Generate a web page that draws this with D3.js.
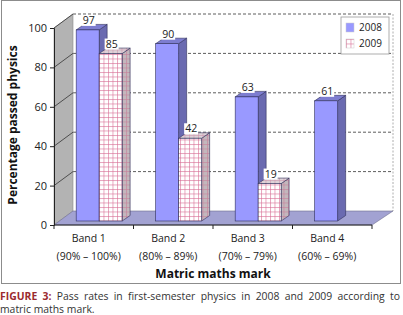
<!DOCTYPE html>
<html>
<head>
<meta charset="utf-8">
<script src="https://cdn.jsdelivr.net/npm/d3@7"></script>
<style>
  body { margin: 0; background: #fff; font-family: "Open Sans", sans-serif; }
  svg { display: block; }
</style>
</head>
<body>
<div id="chart"></div>
<script>
// data
var bands = ["Band 1", "Band 2", "Band 3", "Band 4"];
var ranges = ["(90% \u2013 100%)", "(80% \u2013 89%)", "(70% \u2013 79%)", "(60% \u2013 69%)"];
var years = ["2008", "2009"];
var pass2008 = [97, 90, 63, 61];
var pass2009 = [85, 42, 19, null];
var yTicks = [0, 20, 40, 60, 80, 100];
var captionHead = "FIGURE 3:";
var captionLine1 = " Pass rates in first-semester physics in 2008 and 2009 according to";
var captionLine2 = "matric maths mark.";

var width = 403, height = 315;
var svg = d3.select("#chart").append("svg")
    .attr("width", width)
    .attr("height", height)
    .attr("font-family", "Open Sans, sans-serif");

var defs = svg.append("defs");
// grid pattern for 2009 faces
function gridPattern(id, bg, line) {
    var p = defs.append("pattern")
        .attr("id", id)
        .attr("patternUnits", "userSpaceOnUse")
        .attr("width", 4.5).attr("height", 4.5);
    p.append("rect").attr("width", 4.5).attr("height", 4.5).attr("fill", bg);
    p.append("path").attr("d", "M0,0.5H4.5M0.5,0V4.5")
        .attr("stroke", line).attr("stroke-width", 0.6).attr("fill", "none");
}
gridPattern("grid", "#ffffff", "#d86b92");
gridPattern("gridSide", "#c2b8bd", "#c77f9a");
gridPattern("gridTop", "#ddd3d8", "#cf97ad");

// outer frame
svg.append("rect")
    .attr("x", 1.5).attr("y", 0.5)
    .attr("width", 399).attr("height", 283)
    .attr("fill", "none").attr("stroke", "#8c8c8c");

var x = d3.scaleBand().domain(bands).range([54, 372]);
var xInner = d3.scaleBand().domain(years).range([0, x.bandwidth()]).paddingOuter(0.73);
var y = d3.scaleLinear().domain([0, 100]).range([225, 28]);

var DX = 19, DY = -14;      // wall depth
var BX = 5.4, BY = -4;      // bar depth position
var bdx = 8, bdy = -5.5;    // bar thickness

function pts(a) { return a.map(function (p) { return p.join(","); }).join(" "); }

// back wall gridlines
svg.append("g").selectAll("line")
    .data(yTicks.slice(1))
    .enter().append("line")
    .attr("x1", 54 + DX).attr("x2", 372 + DX + 2)
    .attr("y1", function (d) { return y(d) + DY; })
    .attr("y2", function (d) { return y(d) + DY; })
    .attr("stroke", "#333").attr("stroke-width", 0.8)
    .attr("stroke-dasharray", "3,2");
svg.append("line")
    .attr("x1", 372 + DX + 2).attr("x2", 372 + DX + 2)
    .attr("y1", y(100) + DY).attr("y2", y(0) + DY)
    .attr("stroke", "#999").attr("stroke-width", 0.8)
    .attr("stroke-dasharray", "2,1.5");

// left wall
svg.append("polygon")
    .attr("points", pts([[54, y(0)], [54, y(100)], [54 + DX, y(100) + DY], [54 + DX, y(0) + DY]]))
    .attr("fill", "#b3b3b3").attr("stroke", "#8a8a8a").attr("stroke-width", 0.6);
svg.append("g").selectAll("line")
    .data(yTicks.slice(1))
    .enter().append("line")
    .attr("x1", 54).attr("x2", 54 + DX)
    .attr("y1", function (d) { return y(d); })
    .attr("y2", function (d) { return y(d) + DY; })
    .attr("stroke", "#333").attr("stroke-width", 0.8);

// floor
svg.append("polygon")
    .attr("points", pts([[54, y(0)], [372, y(0)], [372 + DX + 2, y(0) + DY], [54 + DX, y(0) + DY]]))
    .attr("fill", "#a2a2d2").attr("stroke", "#6e6e8e").attr("stroke-width", 0.6);

// bars
var barData = [];
bands.forEach(function (b, i) {
    [pass2008[i], pass2009[i]].forEach(function (v, j) {
        if (v != null) barData.push({ band: b, year: years[j], value: v });
    });
});
var bw = xInner.bandwidth();
var bars = svg.append("g").selectAll("g")
    .data(barData)
    .enter().append("g");
bars.each(function (d) {
    var g = d3.select(this);
    var x0 = x(d.band) + xInner(d.year) + BX, x1 = x0 + bw;
    var yb = y(0) + BY, yt = y(d.value) + BY;
    var is08 = d.year === "2008";
    g.append("polygon")
        .attr("points", pts([[x1, yt], [x1 + bdx, yt + bdy], [x1 + bdx, yb + bdy], [x1, yb]]))
        .attr("fill", is08 ? "#6a6ab0" : "url(#gridSide)")
        .attr("stroke", "#2f2f5a").attr("stroke-width", 0.6);
    g.append("polygon")
        .attr("points", pts([[x0, yt], [x1, yt], [x1 + bdx, yt + bdy], [x0 + bdx, yt + bdy]]))
        .attr("fill", is08 ? "#7d7dd0" : "url(#gridTop)")
        .attr("stroke", "#2f2f5a").attr("stroke-width", 0.6);
    g.append("rect")
        .attr("x", x0).attr("y", yt)
        .attr("width", bw).attr("height", yb - yt)
        .attr("fill", is08 ? "#9999ff" : "url(#grid)")
        .attr("stroke", "#2f2f5a").attr("stroke-width", 0.6);
});

// value labels
var labels = svg.append("g").selectAll("g")
    .data(barData)
    .enter().append("g")
    .attr("transform", function (d) {
        return "translate(" + (x(d.band) + xInner(d.year) + BX + bw / 2 + 1) + "," + (y(d.value) + BY - 6) + ")";
    });
labels.append("rect")
    .attr("x", -7).attr("y", -9).attr("width", 14).attr("height", 11)
    .attr("fill", "#fff");
labels.append("text")
    .attr("text-anchor", "middle")
    .attr("font-size", 10.5)
    .attr("fill", "#222")
    .text(function (d) { return d.value; });

// axes
var yAxis = d3.axisLeft(y).tickValues(yTicks).tickSize(4).tickPadding(3);
svg.append("g")
    .attr("transform", "translate(54,0)")
    .call(yAxis)
    .call(function (g) {
        g.selectAll("path, line").attr("stroke", "#222");
        g.selectAll("text").attr("font-size", 11).attr("font-family", "Open Sans, sans-serif").attr("fill", "#222");
    });

svg.append("line")
    .attr("x1", 54).attr("x2", 372).attr("y1", y(0)).attr("y2", y(0))
    .attr("stroke", "#222");
svg.append("g").selectAll("line")
    .data(bands.concat(["end"]))
    .enter().append("line")
    .attr("x1", function (d, i) { return 54 + i * x.bandwidth(); })
    .attr("x2", function (d, i) { return 54 + i * x.bandwidth(); })
    .attr("y1", y(0)).attr("y2", y(0) + 4)
    .attr("stroke", "#222");

var cat = svg.append("g").selectAll("g")
    .data(bands)
    .enter().append("g")
    .attr("transform", function (d) { return "translate(" + (x(d) + x.bandwidth() / 2 - 5) + ",0)"; });
cat.append("text")
    .attr("y", 242).attr("text-anchor", "middle")
    .attr("font-size", 10.5).attr("fill", "#222")
    .text(function (d) { return d; });
cat.append("text")
    .attr("y", 260).attr("text-anchor", "middle")
    .attr("font-size", 10.5).attr("fill", "#222")
    .text(function (d, i) { return ranges[i]; });

svg.append("text")
    .attr("x", 213).attr("y", 278)
    .attr("text-anchor", "middle")
    .attr("font-size", 12).attr("font-weight", "bold").attr("fill", "#111")
    .text("Matric maths mark");

svg.append("text")
    .attr("transform", "translate(17,125) rotate(-90)")
    .attr("text-anchor", "middle")
    .attr("font-size", 12).attr("font-weight", "bold").attr("fill", "#111")
    .text("Percentage passed physics");

// legend
var legend = svg.append("g").attr("transform", "translate(341,17)");
legend.append("rect")
    .attr("width", 48).attr("height", 37)
    .attr("fill", "#fff").attr("stroke", "#999").attr("stroke-width", 0.8);
var li = legend.selectAll(".item")
    .data(years)
    .enter().append("g")
    .attr("class", "item")
    .attr("transform", function (d, i) { return "translate(5," + (6 + i * 16) + ")"; });
li.append("rect")
    .attr("width", 8).attr("height", 9)
    .attr("fill", function (d) { return d === "2008" ? "#9999ff" : "url(#grid)"; })
    .attr("stroke", "#ccc").attr("stroke-width", 0.5);
li.append("text")
    .attr("x", 13).attr("y", 8)
    .attr("font-size", 10).attr("fill", "#222")
    .text(function (d) { return d; });

// caption (first line justified to full width)
var cap1 = svg.append("text")
    .attr("x", 0).attr("y", 300)
    .attr("font-size", 10.4).attr("fill", "#333")
    .attr("xml:space", "preserve");
cap1.append("tspan").attr("font-weight", "bold").attr("fill", "#9b2a2e").text(captionHead);
cap1.append("tspan").text(captionLine1);
var natural = cap1.node().getComputedTextLength();
var spaces = (captionHead + captionLine1).split(" ").length - 1;
cap1.attr("word-spacing", Math.max(0, (400 - natural) / spaces));

svg.append("text")
    .attr("x", 0).attr("y", 313)
    .attr("font-size", 10.4).attr("fill", "#333")
    .text(captionLine2);
</script>
</body>
</html>
